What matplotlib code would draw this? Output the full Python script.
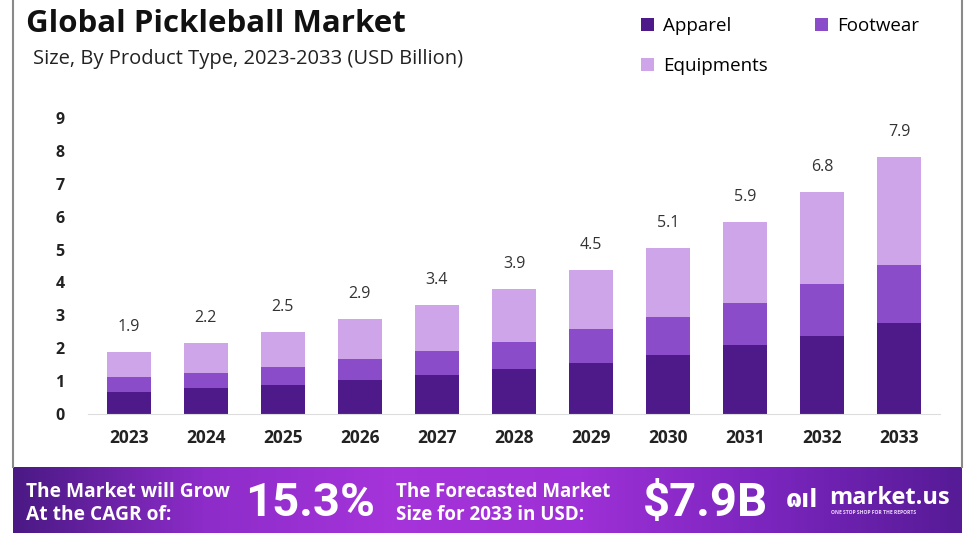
import numpy as np
import matplotlib.pyplot as plt
from matplotlib.lines import Line2D
from matplotlib.colors import LinearSegmentedColormap

years = ["2023", "2024", "2025", "2026", "2027", "2028",
         "2029", "2030", "2031", "2032", "2033"]
apparel = [0.67, 0.78, 0.89, 1.04, 1.18, 1.37, 1.56, 1.79, 2.09, 2.38, 2.77]
footwear = [0.44, 0.48, 0.55, 0.63, 0.75, 0.83, 1.01, 1.15, 1.30, 1.57, 1.77]
equipments = [0.78, 0.90, 1.05, 1.23, 1.39, 1.60, 1.82, 2.12, 2.46, 2.80, 3.26]
totals = ["1.9", "2.2", "2.5", "2.9", "3.4", "3.9", "4.5", "5.1", "5.9", "6.8", "7.9"]

c_app = "#4e1a8a"
c_foot = "#8a4cc8"
c_equip = "#cfa5ea"

W, H = 965, 533
fig = plt.figure(figsize=(W / 100, H / 100), dpi=100)
fig.patch.set_facecolor("white")

def fx(px):
    return px / W

def fy(py):
    return 1 - py / H

ax = fig.add_axes([fx(88), fy(414), fx(940) - fx(88), fy(118) - fy(414)])
x = np.arange(len(years))
bw = 0.57
b1 = ax.bar(x, apparel, bw, color=c_app, label="Apparel")
b2 = ax.bar(x, footwear, bw, bottom=apparel, color=c_foot, label="Footwear")
bottom2 = np.array(apparel) + np.array(footwear)
b3 = ax.bar(x, equipments, bw, bottom=bottom2, color=c_equip, label="Equipments")

tops = bottom2 + np.array(equipments)
for xi, t, lab in zip(x, tops, totals):
    ax.annotate(lab, (xi, t), xytext=(0, 18), textcoords="offset points",
                ha="center", va="center", fontsize=11.5, color="#333333",
                family="Open Sans")

ax.set_xlim(-0.53, 10.53)
ax.set_ylim(0, 9)
ax.set_yticks(range(10))
ax.set_xticks(x)
ax.set_xticklabels(years)
for s in ["top", "right", "left"]:
    ax.spines[s].set_visible(False)
ax.spines["bottom"].set_color("#dddddd")
ax.tick_params(axis="y", length=0, pad=17)
ax.tick_params(axis="x", length=0, pad=11)
for lbl in ax.get_yticklabels():
    lbl.set_fontweight("bold")
    lbl.set_fontsize(11.5)
    lbl.set_color("#222222")
    lbl.set_family("Open Sans")
for lbl in ax.get_xticklabels():
    lbl.set_fontweight("bold")
    lbl.set_fontsize(12.5)
    lbl.set_color("#222222")
    lbl.set_family("Open Sans")

# title and subtitle
fig.text(fx(26), fy(32), "Global Pickleball Market", fontsize=22.5, fontweight="bold",
         color="#111111", family="Open Sans", va="baseline")
fig.text(fx(33), fy(64), "Size, By Product Type, 2023-2033 (USD Billion)", fontsize=14.5,
         color="#222222", family="Open Sans", va="baseline")

fig.legend(handles=[b1, b3, b2], loc="upper left", bbox_to_anchor=(fx(624), fy(0)),
           ncol=2, frameon=False, handlelength=0.7, handleheight=0.7,
           handletextpad=0.5, columnspacing=2.5, labelspacing=1.2,
           prop={"family": "Open Sans", "size": 13.5})

# frame lines
fig.add_artist(Line2D([fx(13), fx(13)], [fy(467), 1], color="#8a8a8a", lw=1.5))
fig.add_artist(Line2D([fx(962), fx(962)], [fy(467), 1], color="#8a8a8a", lw=1.5))

# footer band
fax = fig.add_axes([fx(13), 0, fx(962) - fx(13), fy(467)])
cmap = LinearSegmentedColormap.from_list(
    "band", ["#4a1984", "#8d2cc9", "#a534da", "#9d30d6", "#7a25bd", "#561b96"])
grad = np.linspace(0, 1, 512).reshape(1, -1)
fax.imshow(grad, aspect="auto", cmap=cmap, extent=[0, 1, 0, 1])
fax.set_xlim(0, 1)
fax.set_ylim(0, 1)
fax.axis("off")

fig.text(fx(26), fy(492), "The Market will Grow", fontsize=13.8, fontweight="bold",
         color="white", family="Open Sans", va="center")
fig.text(fx(26), fy(515), "At the CAGR of:", fontsize=13.8, fontweight="bold",
         color="white", family="Open Sans", va="center")
fig.text(fx(245), fy(503), "15.3%", fontsize=34, fontweight="bold",
         color="white", family="Roboto", va="center")
fig.text(fx(396), fy(492), "The Forecasted Market", fontsize=13.5, fontweight="bold",
         color="white", family="Open Sans", va="center")
fig.text(fx(396), fy(515), "Size for 2033 in USD:", fontsize=13.5, fontweight="bold",
         color="white", family="Open Sans", va="center")
fig.text(fx(643), fy(503), "$7.9B", fontsize=34, fontweight="bold",
         color="white", family="Roboto", va="center")

# logo
fig.text(fx(786), fy(500), "ɷıl", fontsize=17, fontweight="bold",
         color="white", family="DejaVu Sans", va="center")
fig.text(fx(829), fy(498), "market.us", fontsize=17, fontweight="bold",
         color="white", family="Open Sans", va="center")
fig.text(fx(831), fy(513), "ONE STOP SHOP FOR THE REPORTS", fontsize=3.6, fontweight="bold",
         color="#f0d8ff", family="Open Sans", va="center")

fig.savefig("out.png", dpi=100, facecolor=fig.get_facecolor())
